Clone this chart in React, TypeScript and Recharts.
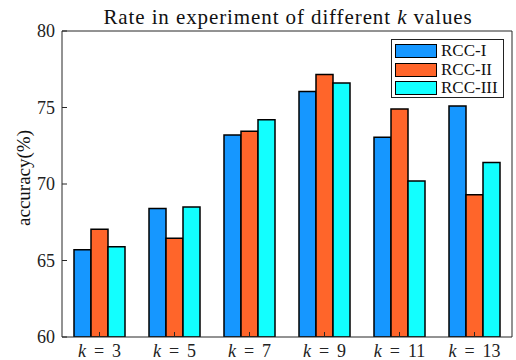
import React from "react";
import { BarChart, Bar, XAxis, YAxis } from "recharts";

const categories = ["3", "5", "7", "9", "11", "13"];
const rccI = [65.7, 68.4, 73.2, 76.05, 73.05, 75.1];
const rccII = [67.05, 66.45, 73.45, 77.15, 74.9, 69.3];
const rccIII = [65.9, 68.5, 74.2, 76.6, 70.2, 71.4];
const yTicks = [60, 65, 70, 75, 80];
const seriesNames = ["RCC-I", "RCC-II", "RCC-III"];
const seriesColors = ["#1697ff", "#ff652a", "#12ffff"];

const data = categories.map((k, i) => ({
  k,
  a: rccI[i],
  b: rccII[i],
  c: rccIII[i],
}));

const FONT = "'Liberation Serif', 'Times New Roman', serif";
const AXIS = "#262626";

function KTick({ x, y, payload }: any) {
  return (
    <text
      x={x}
      y={y + 25}
      textAnchor="middle"
      fontFamily={FONT}
      fontSize={18}
      fill="#222"
    >
      <tspan fontStyle="italic">k</tspan>
      <tspan dx={8}>=</tspan>
      <tspan dx={8}>{payload.value}</tspan>
    </text>
  );
}

function LegendBox() {
  return (
    <div
      style={{
        position: "absolute",
        left: 391,
        top: 39,
        width: 113,
        height: 59,
        border: "1.5px solid #222",
        background: "#fff",
        fontFamily: FONT,
        fontSize: 17,
        color: "#111",
        boxSizing: "border-box",
      }}
    >
      {seriesNames.map((n, i) => (
        <div
          key={n}
          style={{
            position: "absolute",
            left: 3,
            top: 3 + i * 18.5,
            height: 16,
            display: "flex",
            alignItems: "center",
          }}
        >
          <span
            style={{
              display: "inline-block",
              width: 40,
              height: 12,
              background: seriesColors[i],
              border: "1.5px solid #000",
              marginRight: 4,
            }}
          />
          <span style={{ lineHeight: "16px" }}>{n}</span>
        </div>
      ))}
    </div>
  );
}

export default function App() {
  return (
    <div
      style={{
        position: "absolute",
        left: 0,
        top: 0,
        width: 516,
        height: 360,
        background: "#fff",
      }}
    >
      <BarChart
        width={516}
        height={360}
        data={data}
        margin={{ top: 0, right: 0, bottom: 0, left: 0 }}
        barCategoryGap={12}
        barGap={0}
      >
        <XAxis
          dataKey="k"
          height={23}
          stroke={AXIS}
          tickSize={-5}
          tickMargin={0}
          tick={<KTick />}
        />
        <XAxis
          xAxisId="top"
          dataKey="k"
          orientation="top"
          height={31}
          stroke={AXIS}
          tickSize={-5}
          tick={false}
        />
        <YAxis
          width={62}
          domain={[60, 80]}
          ticks={yTicks}
          allowDataOverflow
          stroke={AXIS}
          tickSize={-5}
          tickMargin={12}
          tick={{ fontFamily: FONT, fontSize: 18, fill: "#222" }}
        />
        <YAxis
          yAxisId="right"
          orientation="right"
          width={4}
          domain={[60, 80]}
          ticks={yTicks}
          allowDataOverflow
          stroke={AXIS}
          tickSize={-5}
          tick={false}
        />
        <Bar dataKey="a" name={seriesNames[0]} fill={seriesColors[0]} stroke="#000" strokeWidth={1.5} isAnimationActive={false} />
        <Bar dataKey="b" name={seriesNames[1]} fill={seriesColors[1]} stroke="#000" strokeWidth={1.5} isAnimationActive={false} />
        <Bar dataKey="c" name={seriesNames[2]} fill={seriesColors[2]} stroke="#000" strokeWidth={1.5} isAnimationActive={false} />
      </BarChart>
      <svg
        width={516}
        height={360}
        style={{ position: "absolute", left: 0, top: 0, pointerEvents: "none" }}
      >
        <text
          x={288}
          y={24}
          textAnchor="middle"
          fontFamily={FONT}
          fontSize={21}
          letterSpacing={0.9}
          fill="#111"
        >
          Rate in experiment of different <tspan fontStyle="italic">k</tspan> values
        </text>
        <text
          transform="translate(30,178) rotate(-90)"
          textAnchor="middle"
          fontFamily={FONT}
          fontSize={19}
          fill="#111"
        >
          accuracy(%)
        </text>
      </svg>
      <LegendBox />
    </div>
  );
}
